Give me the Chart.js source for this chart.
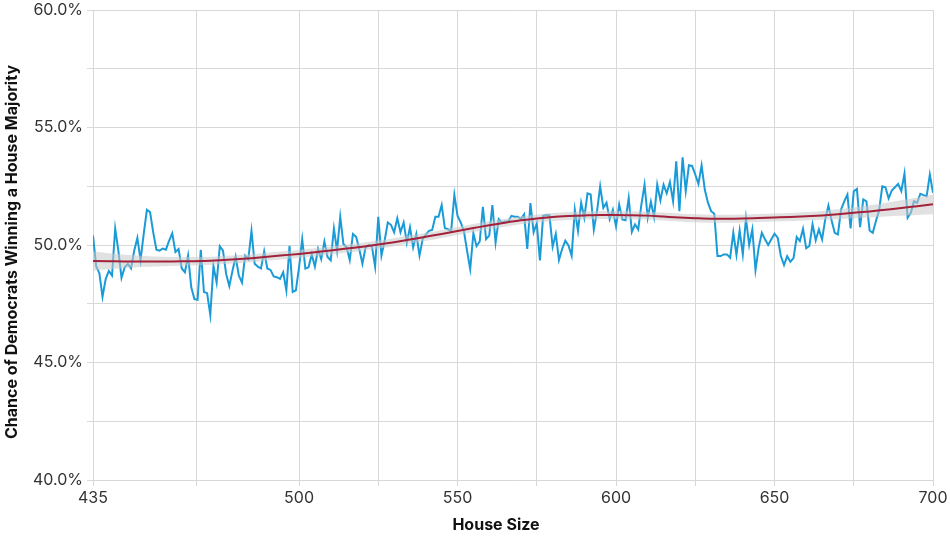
<!DOCTYPE html>
<html>
<head>
<meta charset="utf-8">
<script src="https://cdn.jsdelivr.net/npm/chart.js@4.4.1/dist/chart.umd.min.js"></script>
<style>
  html, body { margin: 0; padding: 0; background: #ffffff; }
  #wrap { width: 950px; height: 537px; position: relative; }
</style>
</head>
<body>
<div id="wrap"><canvas id="c" width="950" height="537"></canvas></div>
<script>
// House sizes 435..700 (one simulated result per size)
const houseSizes = Array.from({length: 266}, (_, i) => 435 + i);

// Chance of Democrats winning a House majority (%), per house size
const chance = [
  50.4, 49.1, 48.8, 47.8, 48.55, 48.9, 48.7, 50.7, 49.76, 48.6,
  49.05, 49.2, 49.0, 49.76, 50.3, 49.36, 50.47, 51.5, 51.4, 50.54,
  49.8, 49.76, 49.85, 49.8, 50.18, 50.5, 49.7, 49.83, 49.0, 48.84,
  49.55, 48.2, 47.7, 47.67, 49.8, 48.0, 47.95, 47.02, 49.1, 48.4,
  49.95, 49.76, 48.77, 48.25, 48.9, 49.5, 48.7, 48.4, 49.55, 49.4,
  50.6, 49.2, 49.08, 49.0, 49.73, 49.0, 48.94, 48.66, 48.63, 48.56,
  48.84, 48.07, 49.97, 48.0, 48.07, 49.05, 50.25, 49.0, 49.05, 49.6,
  49.08, 49.83, 49.4, 50.15, 49.49, 49.34, 50.7, 49.76, 51.2, 50.04,
  49.9, 49.36, 50.47, 50.35, 49.83, 49.2, 49.9, 50.0, 49.93, 49.08,
  51.2, 49.55, 50.18, 50.96, 50.86, 50.54, 51.14, 50.54, 50.96, 50.1,
  50.75, 49.9, 50.47, 49.55, 50.25, 50.44, 50.6, 50.64, 51.2, 51.2,
  51.7, 50.72, 50.67, 50.6, 52.13, 51.24, 50.96, 50.6, 49.76, 48.98,
  50.5, 49.95, 50.15, 51.62, 50.25, 50.4, 51.7, 50.1, 51.1, 50.96,
  51.0, 50.99, 51.24, 51.2, 51.2, 51.1, 51.3, 49.83, 51.78, 50.54,
  50.92, 49.34, 51.24, 51.28, 51.27, 49.93, 50.47, 49.36, 49.83, 50.18,
  49.98, 49.54, 51.5, 50.6, 51.8, 51.16, 52.2, 52.15, 50.66, 51.44,
  52.5, 51.58, 51.8, 51.09, 51.5, 50.8, 51.72, 51.09, 51.05, 52.0,
  50.56, 50.88, 50.66, 51.72, 52.57, 51.16, 51.84, 51.19, 52.57, 51.9,
  52.57, 52.2, 52.68, 51.86, 53.56, 51.44, 53.73, 52.3, 53.4, 53.37,
  53.0, 52.6, 53.39, 52.36, 51.8, 51.44, 51.33, 49.53, 49.53, 49.6,
  49.6, 49.46, 50.52, 49.58, 50.62, 49.6, 51.13, 50.0, 50.66, 48.94,
  49.89, 50.52, 50.24, 50.0, 50.24, 50.48, 50.31, 49.53, 49.15, 49.53,
  49.29, 49.44, 50.34, 50.17, 50.69, 49.86, 49.96, 50.88, 50.2, 50.66,
  50.24, 51.09, 51.68, 51.05, 50.52, 50.45, 51.51, 51.86, 52.15, 50.71,
  52.29, 52.39, 50.76, 51.94, 51.86, 50.62, 50.52, 51.02, 51.47, 52.5,
  52.46, 51.98, 52.32, 52.46, 52.6, 52.29, 53.04, 51.16, 51.37, 51.86,
  51.79, 52.18, 52.12, 52.08, 53.0, 52.22
];

// Smoothed trend (read every 5 seats)
const trendX = [435,440,445,450,455,460,465,470,475,480,485,490,495,500,505,510,515,520,525,530,535,540,545,550,555,560,565,570,575,580,585,590,595,600,605,610,615,620,625,630,635,640,645,650,655,660,665,670,675,680,685,690,695,700];
const trend = [49.32,49.31,49.30,49.30,49.30,49.30,49.31,49.32,49.35,49.39,49.44,49.50,49.56,49.62,49.69,49.77,49.85,49.93,50.02,50.12,50.23,50.35,50.47,50.60,50.72,50.84,50.95,51.05,51.13,51.19,51.23,51.26,51.28,51.28,51.27,51.25,51.21,51.17,51.14,51.12,51.12,51.13,51.15,51.17,51.19,51.22,51.26,51.31,51.37,51.43,51.50,51.57,51.65,51.73];
const bandHigh = [49.72,49.65,49.58,49.54,49.51,49.49,49.49,49.49,49.52,49.56,49.61,49.67,49.73,49.79,49.86,49.94,50.02,50.10,50.19,50.29,50.40,50.52,50.64,50.77,50.89,51.01,51.12,51.22,51.30,51.36,51.40,51.43,51.45,51.45,51.44,51.42,51.38,51.34,51.31,51.29,51.29,51.30,51.32,51.34,51.36,51.40,51.45,51.52,51.60,51.69,51.79,51.90,52.02,52.15];
const bandLow = [48.92,48.97,49.02,49.06,49.09,49.11,49.13,49.15,49.18,49.22,49.27,49.33,49.39,49.45,49.52,49.60,49.68,49.76,49.85,49.95,50.06,50.18,50.30,50.43,50.55,50.67,50.78,50.88,50.96,51.02,51.06,51.09,51.11,51.11,51.10,51.08,51.04,51.00,50.97,50.95,50.95,50.96,50.98,51.00,51.02,51.04,51.07,51.10,51.14,51.17,51.21,51.24,51.28,51.31];

// Axis ticks and titles
const xTicks = [435, 467.5, 500, 525, 550, 575, 600, 625, 650, 675, 700];
const xLabelled = [435, 500, 550, 600, 650, 700];
const yLabelled = [40, 45, 50, 55, 60];
const xTitle = 'House Size';
const yTitle = 'Chance of Democrats Winning a House Majority';

const pts = (xs, ys) => xs.map((x, i) => ({x: x, y: ys[i]}));

const font = "Inter, 'Noto Sans', Roboto, sans-serif";

const axisTitles = {
  id: 'axisTitles',
  afterDraw(chart) {
    const ctx = chart.ctx;
    ctx.save();
    ctx.font = "bold 16px " + font;
    ctx.fillStyle = '#111111';
    ctx.textAlign = 'center';
    ctx.textBaseline = 'middle';
    ctx.fillText(xTitle, 496, 525);
    ctx.translate(12, 252);
    ctx.rotate(-Math.PI / 2);
    ctx.fillText(yTitle, 0, 0);
    ctx.restore();
  }
};

new Chart(document.getElementById('c'), {
  type: 'line',
  data: {
    datasets: [
      {
        label: 'trend',
        data: pts(trendX, trend),
        borderColor: '#a3213a',
        borderWidth: 2,
        pointRadius: 0,
        fill: false,
        cubicInterpolationMode: 'monotone',
        order: 0
      },
      {
        label: 'bandHigh',
        data: pts(trendX, bandHigh),
        borderWidth: 0,
        borderColor: 'rgba(0,0,0,0)',
        pointRadius: 0,
        backgroundColor: 'rgba(200,200,200,0.55)',
        fill: '+1',
        cubicInterpolationMode: 'monotone',
        order: 1
      },
      {
        label: 'bandLow',
        data: pts(trendX, bandLow),
        borderWidth: 0,
        borderColor: 'rgba(0,0,0,0)',
        pointRadius: 0,
        fill: false,
        cubicInterpolationMode: 'monotone',
        order: 1
      },
      {
        label: 'chance',
        data: pts(houseSizes, chance),
        borderColor: '#1a9bd8',
        borderWidth: 2,
        pointRadius: 0,
        fill: false,
        tension: 0,
        order: 2
      }
    ]
  },
  options: {
    responsive: false,
    animation: false,
    layout: { padding: { top: 10, right: 17, left: 0, bottom: 0 } },
    plugins: { legend: { display: false }, tooltip: { enabled: false } },
    scales: {
      x: {
        type: 'linear',
        min: 435,
        max: 700,
        afterBuildTicks: (s) => { s.ticks = xTicks.map(v => ({value: v})); },
        afterFit: (s) => { s.height = 57; s.paddingLeft = 0; s.paddingRight = 0; },
        ticks: {
          autoSkip: false,
          maxRotation: 0,
          color: '#333333',
          padding: 3,
          font: { family: font, size: 16 },
          callback: (v) => xLabelled.includes(v) ? String(v) : ''
        },
        grid: { color: '#d8d8d8', lineWidth: 1, tickLength: 6, drawTicks: true },
        border: { color: '#d8d8d8' },
        title: { display: false }
      },
      y: {
        min: 40,
        max: 60,
        afterFit: (s) => { s.width = 93; s.paddingTop = 0; s.paddingBottom = 0; },
        ticks: {
          stepSize: 2.5,
          color: '#333333',
          padding: 4,
          font: { family: font, size: 16 },
          callback: (v) => yLabelled.includes(v) ? v.toFixed(1) + '%' : ''
        },
        grid: { color: '#d8d8d8', lineWidth: 1, tickLength: 6, drawTicks: true },
        border: { color: '#d8d8d8' },
        title: { display: false }
      }
    }
  },
  plugins: [axisTitles]
});
</script>
</body>
</html>
